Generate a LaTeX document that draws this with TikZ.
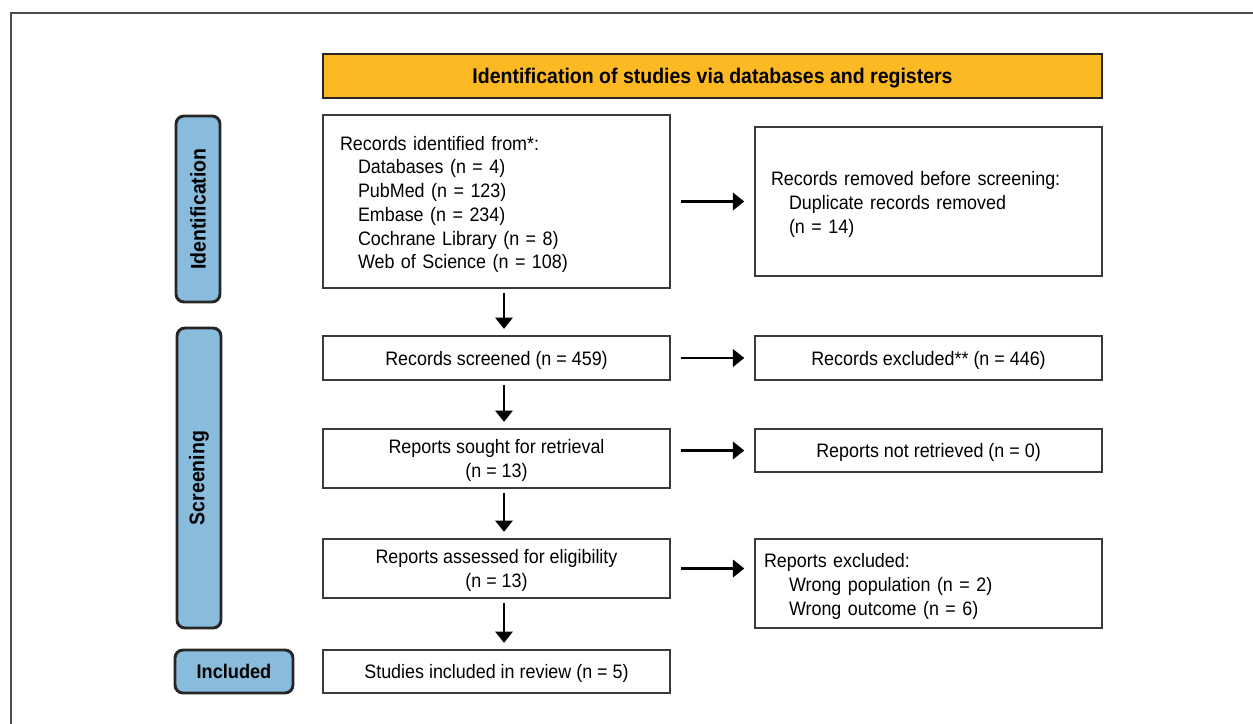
\documentclass[tikz,border=0pt]{standalone}
\usepackage{fontspec}
\setmainfont{Liberation Sans}[FakeStretch=0.92]
\usetikzlibrary{arrows.meta}
\definecolor{hdrfill}{HTML}{FDB924}
\definecolor{sidefill}{HTML}{89BBDC}
\definecolor{bord}{HTML}{3A3A3A}
\begin{document}
\begin{tikzpicture}[x=0.75pt,y=-0.75pt,
  wh/.style 2 args={minimum width=#1*0.75pt, minimum height=#2*0.75pt},
  box/.style={draw=bord, line width=1.1pt, fill=white, inner sep=0pt,
    font=\fontsize{14.6}{17.8}\selectfont},
  oneline/.style={box, text depth=-2pt},
  listbox/.style={box, align=left, text height=15pt},
  sidebox/.style={draw=black!85, line width=2.2pt, fill=sidefill,
    rounded corners=6pt, inner sep=0pt,
    font=\bfseries\fontsize{15.9}{18}\selectfont},
  arr/.style={line width=1.9pt, -{Triangle[length=8.5pt,width=13pt]}},
  harr/.style={arr, shorten <=7.5pt, shorten >=7.5pt},
  varr/.style={arr, shorten <=3pt, shorten >=4.8pt}]

\useasboundingbox (0,0) rectangle (1253,724);
\draw[line width=0.8pt, black!70] (11,724) -- (11,13) -- (1253,13);

% header
\node[oneline, draw=black!85, line width=1.6pt, fill=hdrfill, wh={779}{44},
  font=\bfseries\fontsize{15.9}{18}\selectfont] (hdr) at (712.5,76)
  {Identification of studies via databases and registers};

% side labels
\node[sidebox, rotate=90, minimum width=186*0.75pt, minimum height=44*0.75pt]
  (sid) at (198,209) {Identification};
\node[sidebox, rotate=90, minimum width=300*0.75pt, minimum height=44*0.75pt]
  (ssc) at (199,478) {Screening};
\node[sidebox, wh={118}{43}, font=\bfseries\fontsize{14.8}{17}\selectfont]
  (sinc) at (234,671.5) {Included};

% left column
\node[listbox, wh={347}{173}, text width=234.75pt] (rid) at (496.5,201.5)
  {Records identified from*:\\
   \hspace*{13.5pt}Databases (n = 4)\\
   \hspace*{13.5pt}PubMed (n = 123)\\
   \hspace*{13.5pt}Embase (n = 234)\\
   \hspace*{13.5pt}Cochrane Library (n = 8)\\
   \hspace*{13.5pt}Web of Science (n = 108)};
\node[oneline, wh={347}{44}] (rsc) at (496.5,358) {Records screened (n = 459)};
\node[oneline, wh={347}{59}, align=center] (rsr) at (496.5,458.5)
  {Reports sought for retrieval\\(n = 13)};
\node[oneline, wh={347}{59}, align=center] (ras) at (496.5,568.5)
  {Reports assessed for eligibility\\(n = 13)};
\node[oneline, wh={347}{43}] (sin) at (496.5,671.5) {Studies included in review (n = 5)};

% right column
\node[listbox, wh={347}{149}, text width=236.25pt] (rrm) at (928.5,201.5)
  {Records removed before screening:\\
   \hspace*{13.5pt}Duplicate records removed\\
   \hspace*{13.5pt}(n = 14)};
\node[oneline, wh={347}{44}] (rex) at (928.5,358) {Records excluded** (n = 446)};
\node[oneline, wh={347}{43}] (rnr) at (928.5,450.5) {Reports not retrieved (n = 0)};
\node[listbox, wh={347}{89}, text width=246.75pt] (rep) at (928.5,583.5)
  {Reports excluded:\\
   \hspace*{18.75pt}Wrong population (n = 2)\\
   \hspace*{18.75pt}Wrong outcome (n = 6)};

% vertical arrows (slightly right of the box centres, as in the reference)
\coordinate (ax) at (504,0);
\draw[varr] (rid.south -| ax) -- (rsc.north -| ax);
\draw[varr] (rsc.south -| ax) -- (rsr.north -| ax);
\draw[varr] (rsr.south -| ax) -- (ras.north -| ax);
\draw[varr] (ras.south -| ax) -- (sin.north -| ax);

% horizontal arrows
\draw[harr] (rid) -- (rrm);
\draw[harr] (rsc) -- (rex);
\draw[harr] (rsr.east |- rnr.west) -- (rnr.west);
\draw[harr] (ras.east) -- (rep.west |- ras.east);
\end{tikzpicture}
\end{document}
